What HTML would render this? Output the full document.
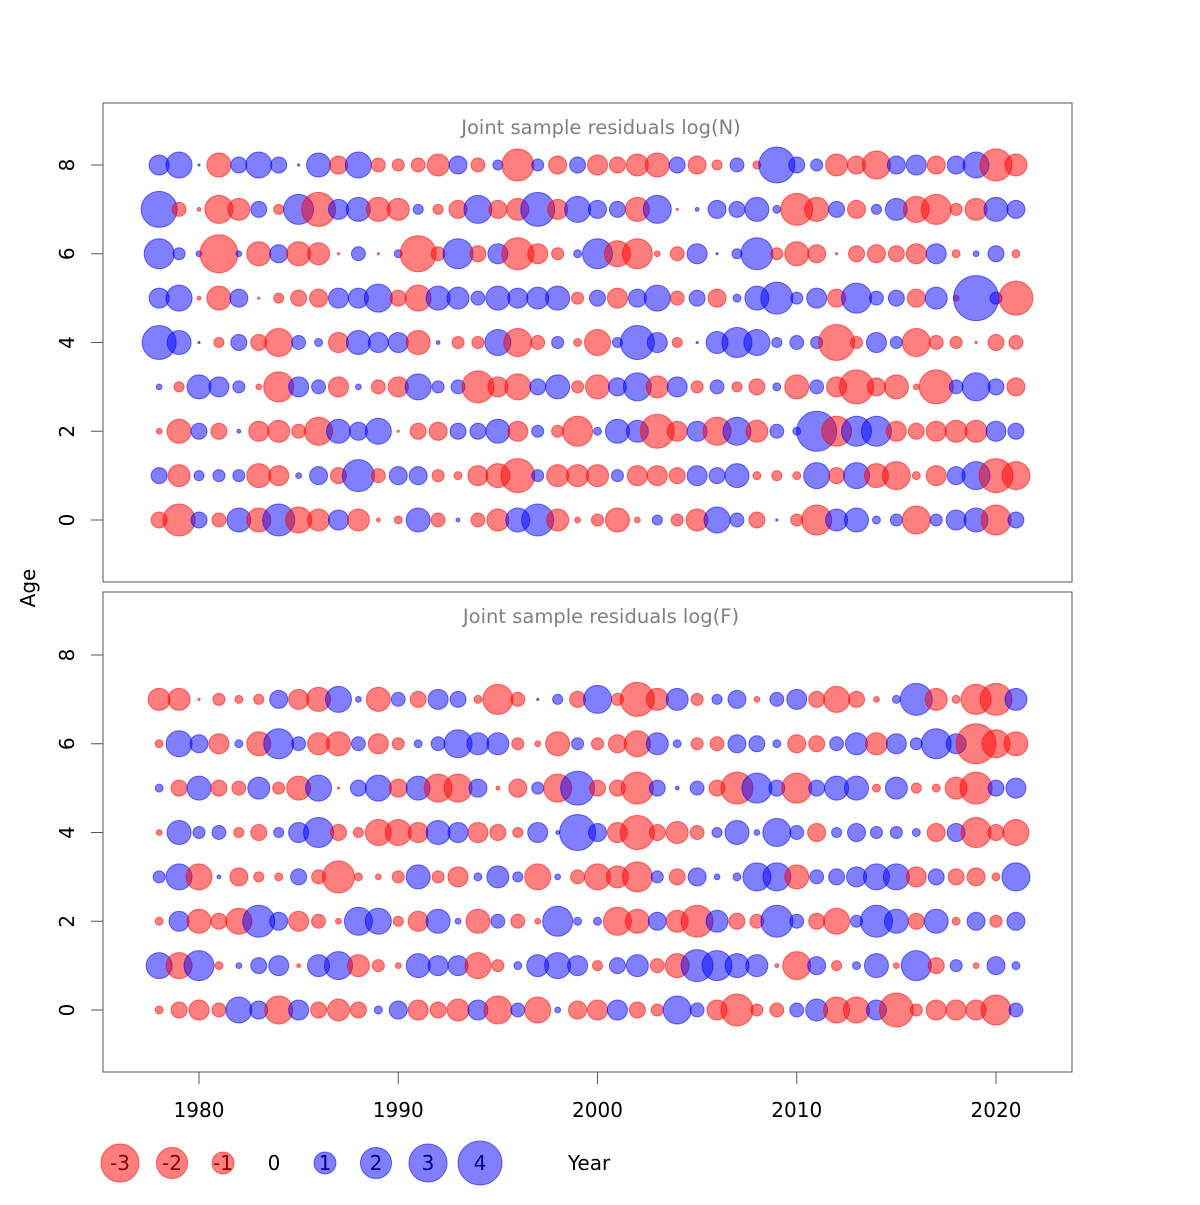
<!DOCTYPE html>
<html><head><meta charset="utf-8"><style>
body{margin:0;background:#fff;}
svg text{font-family:"DejaVu Sans","Liberation Sans",sans-serif;}
</style></head><body>
<svg id="chart" width="1200" height="1200" viewBox="0 0 1200 1200" xmlns="http://www.w3.org/2000/svg">
<rect width="1200" height="1200" fill="#fff"/>
<g id="top"></g>
<g id="bot"></g>
<g id="axes"></g>
<g id="legend"></g>
</svg>
<script>
const years = [];
for (let y = 1978; y <= 2021; y++) years.push(y);
const xTicks = [1980, 1990, 2000, 2010, 2020];
const yTicks = [0, 2, 4, 6, 8];
const legendValues = [-3, -2, -1, 0, 1, 2, 3, 4];

const nAge8 = [.83,1.4,.01,-1.19,.53,1.4,.53,.01,1.19,-.67,1.4,-.4,-.3,-.4,-1,.67,-.4,.21,-2.12,.3,-.67,.53,-.83,-.53,-1,-1.19,.53,-.67,-.21,.4,-.13,2.68,.53,.3,-1,-.67,-1.62,.67,.83,-.67,.67,1.4,-2.12,-1];
const nAge7 = [2.68,-.4,-.03,-1.62,-1,.53,-.21,1.86,-2.39,.83,1.19,-1.19,-1,.21,-.21,-.67,1.62,-.67,-1,2.39,-.83,1.4,.67,.53,-1.19,1.62,-.01,.03,.67,.53,1.19,.13,-2.12,-1.19,.53,-.67,.21,1,-1.4,-1.86,-.3,-1,1.19,.67];
const nAge6 = [1.86,.3,.07,-2.98,.07,-1.19,.67,-1.19,-1,-.01,.4,-.01,.13,-2.68,-.4,1.86,-.53,.83,-2.12,-.83,-.3,.13,1.86,-1.4,-1.86,-.07,-.4,.83,.01,.21,2.12,-.3,-1.19,-.67,-.01,-.53,-.67,-.53,-.83,.83,-.13,.07,.53,-.13];
const nAge5 = [.83,1.4,-.03,-1.19,.67,-.01,-.21,-.53,-.67,.83,.83,1.62,-.53,-1.4,1.19,1,.4,1.19,.83,1,1.19,-.3,.53,-.83,.67,1.4,-.4,.53,-.67,.13,1.19,2.12,.3,.83,-.67,1.86,.4,.53,-.67,1,-.07,4.2,.3,-2.39];
const nAge4 = [2.39,1.19,.01,-.21,.53,-.53,-1.62,.4,.13,-.83,1.19,.83,.83,-1.19,.03,-.3,-.3,1.4,-1.62,-.4,.3,-.13,-1.4,.21,2.39,.83,-.21,.01,1,1.86,1.4,.21,.4,.3,-2.68,-.3,.83,.3,-1.62,-.4,-.3,-.01,-.53,-.4];
const nAge3 = [.07,-.21,1.19,.83,.3,-.07,-1.86,.83,.4,-.83,.07,-.4,-.83,1.4,.3,.4,-2.12,-.83,-1.4,.53,1.19,-.3,-1.19,.67,1.62,-1,.83,-.3,.4,-.21,-.53,.13,-1.19,.4,-.83,-2.39,-.67,-1.19,-.07,-2.39,.4,1.62,.53,-.67];
const nAge2 = [-.07,-1.19,.53,-.53,.03,-.83,-1,-.4,-1.62,1.19,.67,1.4,-.01,-.53,-.67,.53,.53,1.19,-.83,.3,-.3,-1.86,.13,1.19,1,-2.39,-.83,.83,-1.62,1.62,-1,.4,.13,3.31,-1.86,1.86,1.86,-.83,-.53,-.83,-1,-1,.83,.53];
const nAge1 = [.53,-1,.21,.3,.3,-1.19,-.83,.07,.67,-.53,2.12,-.4,.67,.67,-.3,-.13,-.83,-1.19,-2.39,.3,-1,-1,-1,.3,-.83,-.83,-.53,.83,.53,1.19,-.13,-.21,-.13,1.4,-.53,1.4,-1.19,-1.62,-.13,-.83,.67,1.62,-2.39,-1.62];
const nAge0 = [-.53,-2.12,.53,-.4,1.19,-1.19,2.12,-1.4,-1,.83,-1,-.03,-.13,1.19,-.4,.03,-.4,-1,1.19,2.12,-1,-.07,-.3,-1.19,-.07,.21,-.3,-1,1.4,.4,-.53,.01,-.3,-1.86,1,1.19,.13,.3,-1.62,.3,.83,1.19,-1.86,.53];

const fAge7 = [-1,-1,-.01,-.3,-.13,-.21,.67,-.83,-1.19,1.4,.07,-1.19,.4,-.53,.83,.53,-.13,-1.86,-.4,.01,.21,-.53,1.62,-.3,-2.39,-1,1,-.3,.21,.67,-.07,.4,.83,-.53,-1.4,-.53,-.07,.13,2.12,-1,-.13,-1.86,-2.12,1];
const fAge6 = [-.13,1.4,.67,-.83,.13,-1.19,1.86,.4,-1,-1.19,.4,-.83,-.3,.13,.4,1.62,1,1,-.3,-.07,-1.19,.3,-.3,-.67,-1.4,1,.13,-.3,-.4,.67,.53,.13,-.67,-.53,.4,1,-1,.83,.3,1.86,.83,-3.31,-1.62,-1.19];
const fAge5 = [.13,-.53,1.19,-.53,-.4,1,-.3,-1.19,1.4,-.01,.53,1.4,-.67,1.19,-1.62,-1.62,.67,-.03,-.67,.3,-1.62,2.39,-.53,-.53,-2.12,.53,.03,.4,-.53,-2.12,1.86,.53,-1.86,.53,1.19,1.19,-.13,1,-.21,-.13,-1,-2.12,.53,.83];
const fAge4 = [-.07,1.19,.3,.4,-.21,-.53,.21,.83,1.86,-.53,-.21,-1.4,-1.4,-.83,1.19,.83,-.83,-.53,-.21,.83,.03,2.68,.67,-.83,-2.39,-.53,-1,-.4,.21,1.19,.07,1.62,.4,-.67,.21,.67,.3,.3,.13,-.67,.67,-1.86,-.53,-1.4];
const fAge3 = [.3,1.4,-1.4,.03,-.67,-.21,-.13,.53,-.4,-2.12,-.13,-.07,-.3,1.19,-.3,-.83,.13,1,.21,-1.4,.07,-.4,-1.4,-1,-1.86,.3,-.53,.67,.07,.13,1.62,1.62,-1.19,.4,.53,.83,1.4,1.4,-.83,.53,-.53,-.67,-.13,1.62];
const fAge2 = [-.13,.83,-1.19,-.53,-1.4,2.12,.67,-.83,-.4,-.07,1.62,1.4,-.21,-.83,1.19,.07,-1.19,.4,-.4,-.07,1.86,.13,.13,-1.62,-1.19,.67,-1,-2.12,1,-.53,-.4,2.12,.4,-.53,-1.4,.3,2.12,1.19,-.53,1.19,-.13,.67,-.3,.67];
const fAge1 = [1.4,-1.4,1.86,-.13,.07,.53,.83,-.03,1,1.62,-1,-.3,-.07,1.19,.83,.83,-1.4,-.3,.13,1,1.4,.83,-.21,.53,1,-.4,-1.19,2.12,1.86,1.19,1,-.03,-1.62,.67,-.21,.13,1.19,-.07,1.86,-.53,.3,-.07,.67,.13];
const fAge0 = [-.13,-.53,-.83,-.4,1.4,.67,-1.62,.83,-.53,-1,-.53,.13,.67,-.83,-.53,-1,.83,-1.62,.4,-1.4,.07,-.67,-.83,.83,-.53,-.3,1.62,.4,-.83,-2.12,-.3,-.4,.4,1,-1.4,-1.4,.83,-2.39,-.3,-.83,-.83,-.83,-1.86,.4];

const topRows = [nAge0,nAge1,nAge2,nAge3,nAge4,nAge5,nAge6,nAge7,nAge8];
const botRows = [fAge0,fAge1,fAge2,fAge3,fAge4,fAge5,fAge6,fAge7];

const NS = "http://www.w3.org/2000/svg";
const X0 = 103, X1 = 1072;
function xScale(yr){ return 199 + (yr - 1980) * 19.925; }
function yTop(a){ return 520 - a * 44.375; }
function yBot(a){ return 1010 - a * 44.375; }
function rScale(v){ return 11 * Math.sqrt(Math.abs(v)); }
function mk(tag, attrs, parent){
  const e = document.createElementNS(NS, tag);
  for (const k in attrs) e.setAttribute(k, attrs[k]);
  parent.appendChild(e); return e;
}
const fillPos = "rgba(0,0,255,0.5)", fillNeg = "rgba(255,0,0,0.5)";
const strokePos = "rgba(0,0,255,0.55)", strokeNeg = "rgba(255,0,0,0.55)";

function drawPanel(g, rows, yS, top, bottom, title){
  const frame = mk("rect", {x:X0, y:top, width:X1-X0, height:bottom-top, fill:"none", stroke:"#555", "stroke-width":1}, g);
  
  
  rows.forEach((row, age) => {
    row.forEach((v, i) => {
      const r = rScale(v);
      const c = mk("circle", {cx:xScale(years[i]), cy:yS(age), r:r, fill: v>=0?fillPos:fillNeg, stroke: v>=0?strokePos:strokeNeg, "stroke-width":1}, g);
      
      
    });
  });
  yTicks.forEach(t => {
    const yy = yS(t);
    const tk = mk("line", {x1:91, x2:X0, y1:yy, y2:yy, stroke:"#555"}, g);
    
    
    const tx = mk("text", {x:0, y:0, "font-size":20, "text-anchor":"middle", fill:"#000", transform:"translate(74," + yy + ") rotate(-90)"}, g);
    tx.textContent = t;
    
    
  });
  const ti = mk("text", {x:601, y:top+31, "font-size":19.5, "text-anchor":"middle", fill:"#808080"}, g);
  ti.textContent = title;
  
  
}
drawPanel(document.getElementById("top"), topRows, yTop, 103, 582, "Joint sample residuals log(N)");
drawPanel(document.getElementById("bot"), botRows, yBot, 592, 1072, "Joint sample residuals log(F)");

const ax = document.getElementById("axes");
xTicks.forEach(t => {
  const xx = xScale(t);
  const tk = mk("line", {x1:xx, x2:xx, y1:1072, y2:1084, stroke:"#555"}, ax);
  
  
  const tx = mk("text", {x:xx, y:1117, "font-size":20, "text-anchor":"middle", fill:"#000"}, ax);
  tx.textContent = t;
  
  
});
const ageLab = mk("text", {x:0, y:0, "font-size":20, "text-anchor":"middle", transform:"translate(35,588) rotate(-90)"}, ax);
ageLab.textContent = "Age";


const yearLab = mk("text", {x:589, y:1170, "font-size":20, "text-anchor":"middle"}, ax);
yearLab.textContent = "Year";



const lg = document.getElementById("legend");
const legendX = [120, 172, 223, 274, 325, 376, 428, 480];
legendValues.forEach((v, i) => {
  if (v !== 0) {
    const c = mk("circle", {cx:legendX[i], cy:1163, r:rScale(v), fill: v>0?fillPos:fillNeg, stroke: v>0?strokePos:strokeNeg}, lg);
    
    
  }
  const t = mk("text", {x:legendX[i], y:1170, "font-size":20, "text-anchor":"middle", fill: v>0?"#00008b":(v<0?"#8b0000":"#000")}, lg);
  t.textContent = v;
  
  
});
</script>
</body></html>
